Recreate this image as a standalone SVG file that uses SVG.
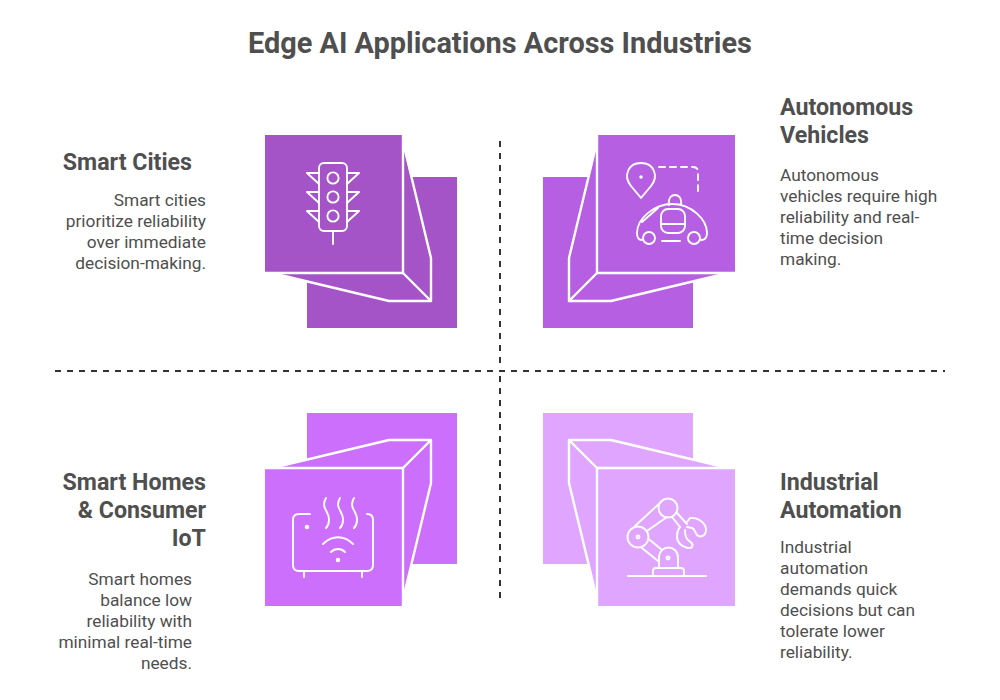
<svg xmlns="http://www.w3.org/2000/svg" width="1000" height="700" viewBox="0 0 1000 700">
<style>
text{font-family:"Roboto","Liberation Sans",sans-serif;fill:#4f4f4f}
.t{font-size:28.9px;font-weight:700;text-anchor:middle}
.h{font-size:23.2px;font-weight:700}
.b{font-size:17.3px;font-weight:400}
.e{text-anchor:end}
.w{fill:none;stroke:#fff;stroke-width:2.4;stroke-linejoin:round;stroke-linecap:round}
.i{fill:none;stroke:#fff;stroke-width:1.9;stroke-linejoin:round;stroke-linecap:round}
.d{fill:none;stroke:#333;stroke-width:2;stroke-dasharray:6 6}
</style>
<rect width="1000" height="700" fill="#fff"/>
<text class="t" x="500" y="53">Edge AI Applications Across Industries</text>
<g id="connectors">
<path class="d" d="M500 141V366"/>
<path class="d" d="M500 376V600"/>
<path class="d" d="M55 371H945"/>
</g>
<g id="smart-cities">
<rect x="307" y="177" width="150" height="151" fill="#a454c7"/>
<rect x="265" y="135" width="138" height="137" fill="#a454c7"/>
<path d="M403 145L431 258V301H389L275 274H403Z" fill="#a454c7"/>
<path class="w" d="M403 135V273H265"/>
<path class="w" d="M404 146L431 258V301H389L276 274M403 273L431 301"/>
<g class="i">
<rect x="319" y="163" width="28" height="68" rx="5"/>
<circle cx="333" cy="178" r="5.6"/><circle cx="333" cy="197" r="5.6"/><circle cx="333" cy="216" r="5.6"/>
<path d="M319 173H307L319 184M347 173H359L347 184M319 192H307L319 203M347 192H359L347 203M319 211H307L319 222M347 211H359L347 222M333 231V244"/>
</g>
<text class="h e" x="192" y="170">Smart Cities</text>
<text class="b e" x="206" y="206">Smart cities</text>
<text class="b e" x="206" y="227">prioritize reliability</text>
<text class="b e" x="206" y="248">over immediate</text>
<text class="b e" x="206" y="269">decision-making.</text>
</g>
<g id="autonomous-vehicles">
<rect x="543" y="177" width="150" height="151" fill="#b75fe3"/>
<rect x="598" y="135" width="137" height="137" fill="#b75fe3"/>
<path d="M597 145L569 258V301H611L725 274H597Z" fill="#b75fe3"/>
<path class="w" d="M597 135V273H735"/>
<path class="w" d="M596 146L569 258V301H611L724 274M597 273L569 301"/>
<g class="i">
<path d="M641 198L631 186C623 176 628 163 641 163C654 163 659 176 651 186Z"/>
<circle cx="641" cy="177" r="0.8"/>
<path stroke-dasharray="6 5" d="M659 167H693Q698 167 698 172V196"/>
<path d="M642 240Q637 240 637 233C637 218 655 204 672 204C692 204 707 220 707 233Q707 240 701 240M662 241H680M642 222L658 208"/>
<circle cx="649" cy="238" r="6"/><circle cx="694" cy="238" r="6"/>
<path d="M669 205C668 197 672 195 675 195C678 195 682 197 681 205M661 224H685"/>
<rect x="661" y="209" width="24" height="24" rx="7"/>
</g>
<text class="h" x="780" y="115">Autonomous</text>
<text class="h" x="780" y="143">Vehicles</text>
<text class="b" x="780" y="181">Autonomous</text>
<text class="b" x="780" y="202">vehicles require high</text>
<text class="b" x="780" y="223">reliability and real-</text>
<text class="b" x="780" y="244">time decision</text>
<text class="b" x="780" y="265">making.</text>
</g>
<g id="smart-homes">
<rect x="307" y="413" width="150" height="151" fill="#cb6ffc"/>
<rect x="265" y="469" width="138" height="137" fill="#cb6ffc"/>
<path d="M403 596L431 483V440H389L275 467H403Z" fill="#cb6ffc"/>
<path class="w" d="M403 606V468H265"/>
<path class="w" d="M404 595L431 483V440H389L276 467M403 468L431 440"/>
<g class="i">
<path d="M310 514H299Q293 514 293 520V565Q293 571 299 571H367Q373 571 373 565V520Q373 514 367 514"/>
<path d="M304 571V577M362 571V577"/>
<path d="M326 498C320 508 330 512 329 520C329 525 327 527 326 528M340 498C334 508 344 512 343 520C343 525 341 527 340 528M354 498C348 508 358 512 357 520C357 525 355 527 354 528"/>
<path d="M323 544C332 535 344 535 353 544M331 552C335 548 341 548 345 552"/>
<circle cx="307" cy="527" r="1.3"/><circle cx="338" cy="560" r="1.3"/>
</g>
<text class="h e" x="206" y="490">Smart Homes</text>
<text class="h e" x="206" y="518">&amp; Consumer</text>
<text class="h e" x="206" y="546">IoT</text>
<text class="b e" x="192" y="585">Smart homes</text>
<text class="b e" x="192" y="606">balance low</text>
<text class="b e" x="192" y="627">reliability with</text>
<text class="b e" x="192" y="648">minimal real-time</text>
<text class="b e" x="192" y="669">needs.</text>
</g>
<g id="industrial-automation">
<rect x="543" y="413" width="150" height="151" fill="#e0a6ff"/>
<rect x="598" y="469" width="137" height="137" fill="#e0a6ff"/>
<path d="M597 596L569 483V440H611L725 467H597Z" fill="#e0a6ff"/>
<path class="w" d="M597 606V468H735"/>
<path class="w" d="M596 595L569 483V440H611L724 467M597 468L569 440"/>
<g class="i">
<circle cx="638" cy="537" r="10.5"/><circle cx="638" cy="537" r="1.5"/>
<circle cx="668" cy="508" r="9.5"/>
<path d="M635 526L661 502M647 531L667 517M642 548L658 561M650 540L662 550"/>
<path d="M677 513L687 524M672 517L680 527"/>
<path d="M659 568V558C659 544 678 544 678 558V568"/>
<circle cx="668" cy="558" r="1.5"/>
<path d="M653 576V571Q653 568 656 568H681Q684 568 684 571V576M628 576H706"/>
<path d="M687 522L690 518C698 517 706 523 706 530C706 536 700 538 697 535C695 532 695 529 692 528L687 527"/>
<path d="M680 527C676 532 676 540 680 544C684 548 690 549 692 547C694 544 691 542 688 540C685 537 685 533 685 530"/>
</g>
<text class="h" x="780" y="490">Industrial</text>
<text class="h" x="780" y="518">Automation</text>
<text class="b" x="780" y="553">Industrial</text>
<text class="b" x="780" y="574">automation</text>
<text class="b" x="780" y="595">demands quick</text>
<text class="b" x="780" y="616">decisions but can</text>
<text class="b" x="780" y="637">tolerate lower</text>
<text class="b" x="780" y="658">reliability.</text>
</g>
</svg>
